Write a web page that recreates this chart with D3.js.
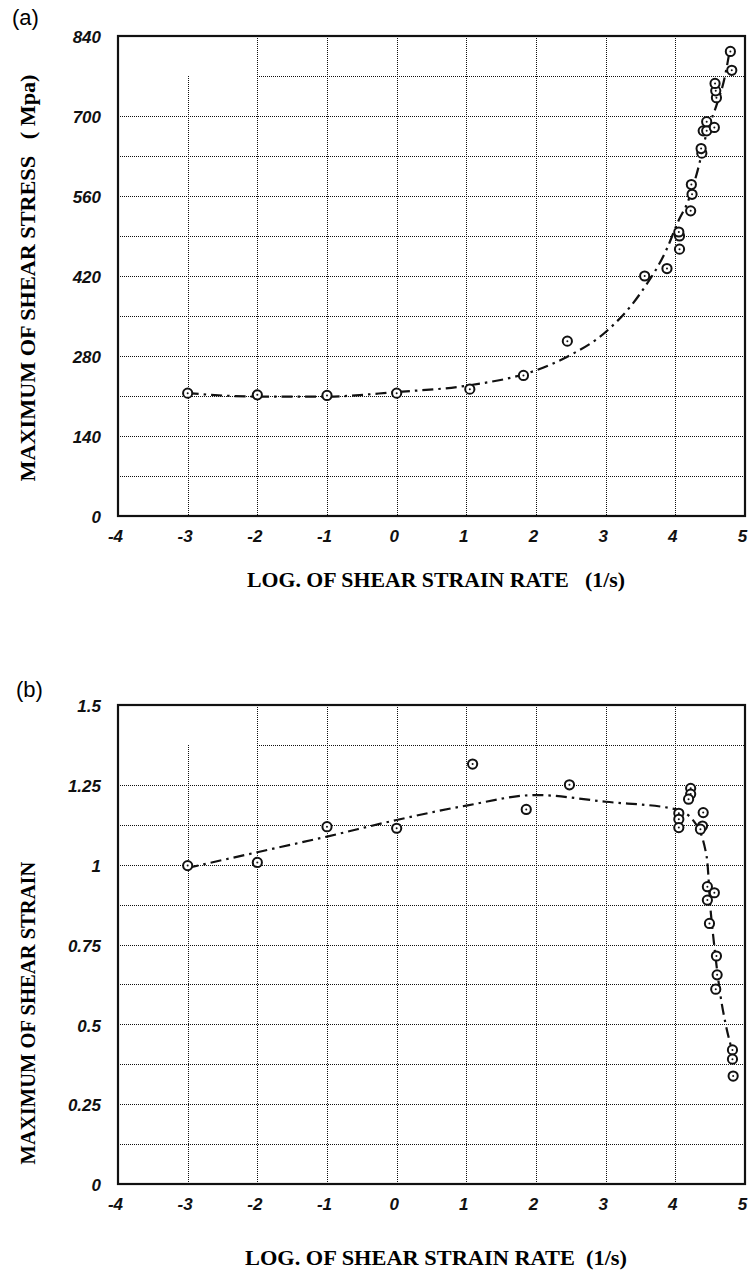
<!DOCTYPE html>
<html>
<head>
<meta charset="utf-8">
<script src="https://cdnjs.cloudflare.com/ajax/libs/d3/7.8.5/d3.min.js"></script>
<style>
  body { margin: 0; background: #fff; }
  .tick text { font-family: "Liberation Sans", sans-serif; font-style: italic; font-weight: bold; font-size: 17px; }
  .title { font-family: "Liberation Serif", serif; font-weight: bold; font-size: 21px; }
  .panel-label { font-family: "Liberation Sans", sans-serif; font-size: 22px; }
</style>
</head>
<body>
<script>
var width = 752;
var height = 1276;

// x axis shared by both panels
var xTicks = [-4, -3, -2, -1, 0, 1, 2, 3, 4, 5];

// panel (a): maximum shear stress (MPa)
var stressTicks = [0, 140, 280, 420, 560, 700, 840];
var stressGrid = [70, 140, 210, 280, 350, 420, 490, 560, 630, 700, 770];
var stressX = [-3, -2, -1, 0, 1.05, 1.82, 2.45, 3.56, 3.88, 4.06, 4.06, 4.05, 4.22, 4.24, 4.23,
               4.38, 4.37, 4.40, 4.45, 4.45, 4.56, 4.59, 4.58, 4.57, 4.81, 4.79];
var stressY = [215, 212, 211, 215, 222, 246, 306, 420, 433, 467, 490, 497, 534, 563, 580,
               635, 643, 674, 674, 690, 680, 732, 744, 757, 780, 813];
var stressFitX = [-3, -2, -1, 0, 1, 2, 2.5, 3, 3.5, 3.88, 4.05, 4.17, 4.31, 4.45, 4.6, 4.7, 4.79];
var stressFitY = [215, 209, 209, 217, 228, 255, 282, 322, 390, 468, 518, 547, 600, 670, 722, 763, 821];

// panel (b): maximum shear strain
var strainTicks = [0, 0.25, 0.5, 0.75, 1, 1.25, 1.5];
var strainGrid = [0.125, 0.25, 0.375, 0.5, 0.625, 0.75, 0.875, 1, 1.125, 1.25, 1.375];
var strainX = [-3, -2, -1, 0, 1.09, 1.86, 2.48, 4.22, 4.22, 4.19, 4.05, 4.05, 4.05, 4.40, 4.39,
               4.36, 4.46, 4.56, 4.46, 4.49, 4.59, 4.60, 4.58, 4.82, 4.82, 4.83];
var strainY = [0.997, 1.007, 1.119, 1.114, 1.315, 1.173, 1.25, 1.239, 1.221, 1.205, 1.161, 1.142, 1.116, 1.163, 1.121,
               1.111, 0.931, 0.912, 0.889, 0.816, 0.714, 0.655, 0.610, 0.420, 0.391, 0.338];
var strainFitX = [-3, -2, -1, 0, 1, 2, 3, 4, 4.27, 4.45, 4.51, 4.55, 4.65, 4.72, 4.8];
var strainFitY = [0.99, 1.039, 1.088, 1.14, 1.185, 1.218, 1.197, 1.174, 1.135, 1.025, 0.848, 0.764, 0.587, 0.503, 0.43];

var svg = d3.select("body").append("svg")
    .attr("width", width)
    .attr("height", height);

var x = d3.scaleLinear().domain([-4, 5]).range([118, 745]);

function drawPanel(p) {
    var y = d3.scaleLinear().domain([0, p.yMax]).range([p.bottom, p.top]);
    var g = svg.append("g");
    var left = x.range()[0], right = x.range()[1];
    var blank = d3.max(p.grid); // top grid row, blank left of x=-2

    // panel letter
    g.append("text").attr("class", "panel-label")
        .attr("x", p.labelX).attr("y", p.labelY).text(p.label);

    // dotted horizontal grid
    g.selectAll(".hgrid").data(p.grid).enter().append("line")
        .attr("x1", function(d) { return d >= blank ? x(-2) : left; })
        .attr("x2", right)
        .attr("y1", function(d) { return Math.round(y(d)) + 0.5; })
        .attr("y2", function(d) { return Math.round(y(d)) + 0.5; })
        .attr("stroke", "#111")
        .attr("stroke-width", 1)
        .attr("shape-rendering", "crispEdges")
        .attr("stroke-dasharray", "1,1");

    // dotted vertical grid
    g.selectAll(".vgrid").data(xTicks.slice(1, -1)).enter().append("line")
        .attr("x1", function(d) { return Math.round(x(d)) + 0.5; })
        .attr("x2", function(d) { return Math.round(x(d)) + 0.5; })
        .attr("y1", function(d) { return d < -2 ? y(blank) : p.top; })
        .attr("y2", p.bottom)
        .attr("stroke", "#111")
        .attr("stroke-width", 1)
        .attr("shape-rendering", "crispEdges")
        .attr("stroke-dasharray", "1,1");

    // frame
    g.append("rect")
        .attr("x", left).attr("y", p.top)
        .attr("width", right - left).attr("height", p.bottom - p.top)
        .attr("fill", "none").attr("stroke", "#111").attr("stroke-width", 2.2);

    // axes (labels only)
    var yAxis = g.append("g")
        .attr("transform", "translate(" + (left - 14) + ",0)")
        .call(d3.axisLeft(y).tickValues(p.ticks).tickSize(0).tickFormat(d3.format("")));
    yAxis.select(".domain").remove();
    yAxis.selectAll("text").attr("fill", "#111").attr("dy", "0.4em");

    var xAxis = g.append("g")
        .attr("transform", "translate(-3," + (p.bottom + 11) + ")")
        .call(d3.axisBottom(x).tickValues(xTicks).tickSize(0).tickFormat(d3.format("")));
    xAxis.select(".domain").remove();
    xAxis.selectAll("text").attr("fill", "#111").text(function(d) { return String(d); });

    // fitted dash-dot curve
    var line = d3.line()
        .x(function(d) { return x(d[0]); })
        .y(function(d) { return y(d[1]); })
        .curve(d3.curveMonotoneX);
    g.append("path")
        .datum(d3.zip(p.fitX, p.fitY))
        .attr("d", line)
        .attr("fill", "none")
        .attr("stroke", "#111")
        .attr("stroke-width", 2.2)
        .attr("stroke-dasharray", "11,5,2.5,5");

    // measured points: circle with center dot
    var pts = d3.zip(p.px, p.py);
    var pg = g.selectAll(".pt").data(pts).enter().append("g")
        .attr("transform", function(d) { return "translate(" + x(d[0]) + "," + y(d[1]) + ")"; });
    pg.append("circle").attr("r", 4.6)
        .attr("fill", "#fff").attr("stroke", "#111").attr("stroke-width", 2);
    pg.append("circle").attr("r", 1).attr("fill", "#111");

    // titles
    g.append("text").attr("class", "title")
        .attr("text-anchor", "middle")
        .attr("transform", "translate(" + p.yTitleX + "," + p.yTitleY + ") rotate(-90)")
        .attr("dy", "0.35em")
        .attr("textLength", p.yTitleLen).attr("lengthAdjust", "spacingAndGlyphs")
        .attr("xml:space", "preserve")
        .text(p.yTitle);

    g.append("text").attr("class", "title")
        .attr("text-anchor", "middle")
        .attr("x", 436).attr("y", p.xTitleY)
        .attr("dy", "0.35em")
        .attr("textLength", p.xTitleLen).attr("lengthAdjust", "spacingAndGlyphs")
        .attr("xml:space", "preserve")
        .text(p.xTitle);
}

drawPanel({
    label: "(a)", labelX: 12, labelY: 25,
    top: 36, bottom: 516, yMax: 840,
    ticks: stressTicks, grid: stressGrid,
    px: stressX, py: stressY, fitX: stressFitX, fitY: stressFitY,
    yTitle: "MAXIMUM OF SHEAR STRESS   ( Mpa)", yTitleX: 28, yTitleY: 278, yTitleLen: 407,
    xTitle: "LOG. OF SHEAR STRAIN RATE   (1/s)", xTitleY: 580, xTitleLen: 378
});

drawPanel({
    label: "(b)", labelX: 16, labelY: 697,
    top: 705, bottom: 1184, yMax: 1.5,
    ticks: strainTicks, grid: strainGrid,
    px: strainX, py: strainY, fitX: strainFitX, fitY: strainFitY,
    yTitle: "MAXIMUM OF SHEAR STRAIN", yTitleX: 28, yTitleY: 1013, yTitleLen: 303,
    xTitle: "LOG. OF SHEAR STRAIN RATE  (1/s)", xTitleY: 1258, xTitleLen: 382
});
</script>
</body>
</html>
